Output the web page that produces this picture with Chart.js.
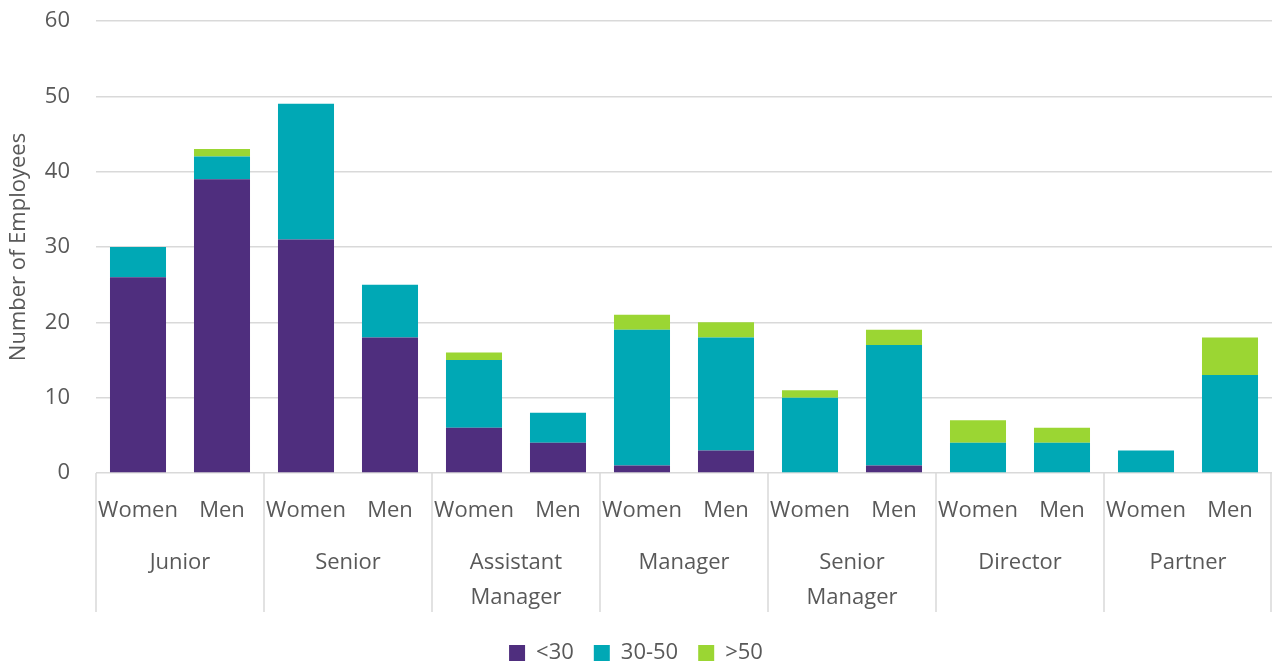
<!DOCTYPE html>
<html>
<head>
<meta charset="utf-8">
<script src="https://cdn.jsdelivr.net/npm/chart.js@4"></script>
<style>
html,body{margin:0;padding:0;background:#fff;}
#wrap{width:1272px;height:664px;position:relative;}
</style>
</head>
<body>
<div id="wrap"><canvas id="c"></canvas></div>
<script>
const groups = ['Junior', 'Senior', ['Assistant', 'Manager'], 'Manager', ['Senior', 'Manager'], 'Director', 'Partner'];
const genders = ['Women', 'Men'];
const seriesNames = ['<30', '30-50', '>50'];
const under30 = [26, 39, 31, 18, 6, 4, 1, 3, 0, 1, 0, 0, 0, 0];
const age30to50 = [4, 3, 18, 7, 9, 4, 18, 15, 10, 16, 4, 4, 3, 13];
const over50 = [0, 1, 0, 0, 1, 0, 2, 2, 1, 2, 3, 2, 0, 5];
const yTicks = [0, 10, 20, 30, 40, 50, 60];

const labels = [];
groups.forEach(() => genders.forEach(g => labels.push(g)));

const FONT = '"Open Sans", Lato, sans-serif';
const TXT = '#595959';
const GRID = '#d9d9d9';
const SEP_DEPTH = 139;

const groupPlugin = {
  id: 'groupPlugin',
  afterDraw(chart) {
    const ctx = chart.ctx;
    const x = chart.scales.x;
    const area = chart.chartArea;
    const step = (x.getPixelForValue(1) - x.getPixelForValue(0));
    ctx.save();
    ctx.strokeStyle = GRID;
    ctx.lineWidth = 1.5;
    for (let i = 0; i <= groups.length; i++) {
      let px = x.getPixelForValue(i * 2) - step / 2;
      if (i === groups.length) px = Math.min(px, chart.width - 1);
      ctx.beginPath();
      ctx.moveTo(px, area.bottom);
      ctx.lineTo(px, area.bottom + SEP_DEPTH);
      ctx.stroke();
    }
    ctx.fillStyle = TXT;
    ctx.font = '22px ' + FONT;
    ctx.textAlign = 'center';
    ctx.textBaseline = 'middle';
    groups.forEach((g, i) => {
      const cx = (x.getPixelForValue(i * 2) + x.getPixelForValue(i * 2 + 1)) / 2;
      const lines = Array.isArray(g) ? g : [g];
      lines.forEach((l, j) => ctx.fillText(l, cx, area.bottom + 90 + j * 35));
    });
    ctx.restore();
  }
};

const chart = new Chart(document.getElementById('c'), {
  type: 'bar',
  data: {
    labels: labels,
    datasets: [
      { label: seriesNames[0], data: under30, backgroundColor: '#4f2e7e' },
      { label: seriesNames[1], data: age30to50, backgroundColor: '#00a8b5' },
      { label: seriesNames[2], data: over50, backgroundColor: '#9bd633' }
    ]
  },
  options: {
    responsive: true,
    maintainAspectRatio: false,
    animation: false,
    layout: { padding: { top: 21, right: 0, left: 0, bottom: 0 } },
    datasets: { bar: { categoryPercentage: 1, barPercentage: 0.667, borderWidth: 0 } },
    plugins: {
      legend: {
        position: 'bottom',
        labels: { font: { size: 22, family: FONT }, color: TXT, boxWidth: 16, boxHeight: 16, padding: 20 }
      },
      tooltip: { enabled: false }
    },
    scales: {
      x: {
        stacked: true,
        grid: { display: false, drawTicks: false },
        border: { display: false },
        ticks: { font: { size: 22, family: FONT }, color: TXT, padding: 25, maxRotation: 0, autoSkip: false },
        afterFit(s) { s.height = 149; s.paddingLeft = 0; s.paddingRight = 0; }
      },
      y: {
        stacked: true,
        min: 0, max: 60,
        afterBuildTicks(s) { s.ticks = yTicks.map(v => ({ value: v })); },
        grid: { color: GRID, lineWidth: 1.5, drawTicks: false },
        border: { display: false },
        ticks: { font: { size: 22, family: FONT }, color: TXT, padding: 26 },
        title: { display: true, text: 'Number of Employees', font: { size: 22, family: FONT }, color: TXT, padding: { top: 6, bottom: 0 } },
        afterFit(s) { s.width = 96; s.paddingTop = 0; s.paddingBottom = 0; }
      }
    }
  },
  plugins: [groupPlugin]
});

// keep the legend strip compact so the plot keeps the reference proportions
const lg = chart.legend;
const origFit = lg.fit.bind(lg);
lg.fit = function () { origFit(); this.height = 42; };
chart.update();
</script>
</body>
</html>
